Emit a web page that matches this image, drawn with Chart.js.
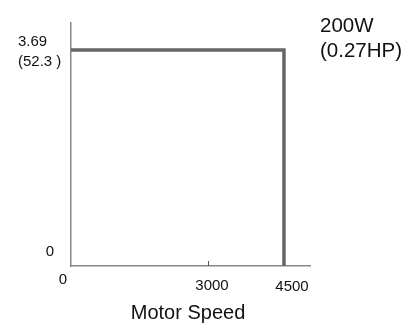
<!DOCTYPE html>
<html>
<head>
<meta charset="utf-8">
<script src="https://cdn.jsdelivr.net/npm/chart.js@4"></script>
<style>
  html, body { margin: 0; padding: 0; background: #fff; }
  #wrap { width: 414px; height: 329px; }
</style>
</head>
<body>
<div id="wrap"><canvas id="chart" width="414" height="329"></canvas></div>
<script>
// speed-torque curve
const speeds = [0, 4500, 4500]
const torque = [3.69, 3.69, 0]

const xTickValues = [0, 3000, 4500]
const xTickLabels = ['0', '3000', '4500']
const yTickValues = [0, 3.69]
const yTickLabels = [['0'], ['3.69', '(52.3 )']]

const titleLines = ['200W', '(0.27HP)']
const xTitle = 'Motor Speed'

const FONT = '"Liberation Sans", Arial, Helvetica, sans-serif'

const labelPlugin = {
  id: 'labels',
  afterDraw (chart) {
    const ctx = chart.ctx
    const x = chart.scales.x
    const y = chart.scales.y
    const bottom = chart.chartArea.bottom
    const left = chart.chartArea.left
    ctx.save()
    ctx.fillStyle = '#111'

    // small tick mark at 3000
    ctx.strokeStyle = '#555'
    ctx.lineWidth = 1
    ctx.beginPath()
    ctx.moveTo(x.getPixelForValue(3000) - 4.5, bottom)
    ctx.lineTo(x.getPixelForValue(3000) - 4.5, bottom - 5)
    ctx.stroke()

    // x tick labels
    ctx.font = '15px ' + FONT
    ctx.textAlign = 'center'
    ctx.textBaseline = 'middle'
    const xOffsets = [[-8, 14], [-1, 20], [8, 21]]
    xTickValues.forEach((v, i) => {
      ctx.fillText(xTickLabels[i], x.getPixelForValue(v) + xOffsets[i][0], bottom + xOffsets[i][1])
    })

    // y tick labels
    ctx.fillText(yTickLabels[0][0], left - 21, y.getPixelForValue(yTickValues[0]) - 14)
    ctx.textAlign = 'left'
    const yTop = y.getPixelForValue(yTickValues[1])
    ctx.fillText(yTickLabels[1][0], 18, yTop - 8)
    ctx.fillText(yTickLabels[1][1], 18, yTop + 12)

    // axis title
    ctx.textAlign = 'center'
    ctx.font = '20px ' + FONT
    ctx.fillText(xTitle, 188, 313)

    // power rating
    ctx.textAlign = 'left'
    ctx.font = '20.5px ' + FONT
    ctx.fillText(titleLines[0], 320, 26)
    ctx.fillText(titleLines[1], 320, 51)
    ctx.restore()
  }
}

new Chart(document.getElementById('chart'), {
  type: 'line',
  data: {
    datasets: [{
      data: speeds.map((s, i) => ({ x: s, y: torque[i] })),
      borderColor: '#666',
      borderWidth: 3.5,
      pointRadius: 0,
      fill: false,
      tension: 0
    }]
  },
  options: {
    responsive: false,
    animation: false,
    layout: { padding: { left: 71, top: 23, right: 104, bottom: 63 } },
    plugins: { legend: { display: false }, tooltip: { enabled: false } },
    scales: {
      x: {
        type: 'linear',
        min: 0,
        max: 5050,
        afterFit: (scale) => { scale.height = 0 },
        grid: { display: false },
        border: { display: true, color: '#888', width: 1.5 },
        ticks: { display: false }
      },
      y: {
        type: 'linear',
        min: 0,
        max: 4.15,
        afterFit: (scale) => { scale.width = 0 },
        grid: { display: false },
        border: { display: true, color: '#888', width: 1.5 },
        ticks: { display: false }
      }
    }
  },
  plugins: [labelPlugin]
})
</script>
</body>
</html>
